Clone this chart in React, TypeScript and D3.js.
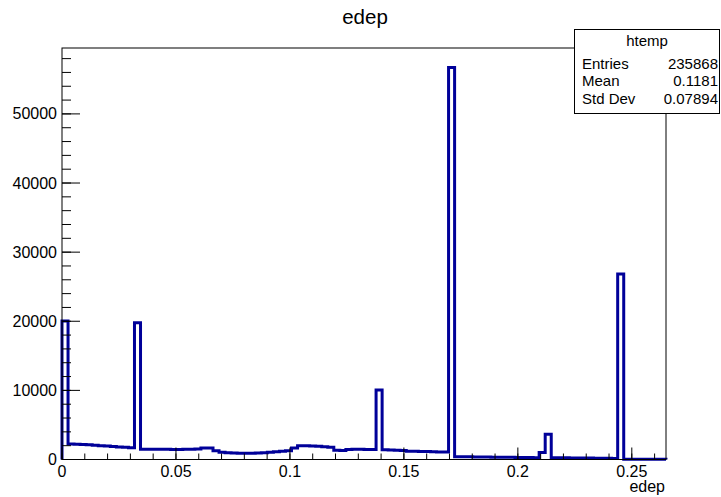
import React from "react";
import * as d3 from "d3";

const histTitle = "edep";
const axisTitle = "edep";
const xMin = 0;
const xMax = 0.265;
const binCounts = [
  20050, 2250, 2200, 2160, 2120, 2060, 2000, 1950, 1880, 1820,
  1760, 1700, 19800, 1500, 1490, 1480, 1470, 1480, 1460, 1450,
  1470, 1490, 1520, 1650, 1680, 1250, 1050, 980, 930, 900,
  900, 920, 950, 980, 1050, 1120, 1180, 1250, 1650, 2000,
  1980, 1950, 1900, 1850, 1780, 1350, 1300, 1450, 1480, 1470,
  1460, 1450, 10050, 1400, 1380, 1350, 1320, 1200, 1180, 1160,
  1140, 1120, 1100, 1080, 56700, 400, 390, 380, 370, 360,
  350, 340, 330, 320, 310, 300, 290, 280, 270, 1000,
  3670, 260, 250, 240, 230, 220, 210, 200, 190, 180,
  170, 160, 26850, 40, 35, 30, 30, 25, 20, 20,
];
const xMajorTicks = [0, 0.05, 0.1, 0.15, 0.2, 0.25];
const xTickLabels = ["0", "0.05", "0.1", "0.15", "0.2", "0.25"];
const yMajorTicks = [0, 10000, 20000, 30000, 40000, 50000];
const yTickLabels = ["0", "10000", "20000", "30000", "40000", "50000"];
const statsName = "htemp";
const statsLabels = ["Entries", "Mean", "Std Dev"];
const statsValues = ["235868", "0.1181", "0.07894"];

const W = 721;
const H = 497;
const frame = { left: 62, right: 666, top: 48, bottom: 459.5 };
const LINE = "#000099";
const FONT = "'Liberation Sans', Arial, Helvetica, sans-serif";

export default function App() {
  const nb = binCounts.length;
  const bw = (xMax - xMin) / nb;
  const yMax = (d3.max(binCounts) as number) * 1.05;
  const x = d3.scaleLinear().domain([xMin, xMax]).range([frame.left, frame.right]);
  const y = d3.scaleLinear().domain([0, yMax]).range([frame.bottom, frame.top]);

  const pts: [number, number][] = [[xMin, 0]];
  binCounts.forEach((c, i) => {
    pts.push([xMin + i * bw, c]);
    pts.push([xMin + (i + 1) * bw, c]);
  });
  pts.push([xMax, 0]);
  const path = d3
    .line<[number, number]>()
    .x((d) => x(d[0]))
    .y((d) => y(d[1]))(pts) as string;

  const xMinor = x.ticks(30);
  const yMinor = y.ticks(30);

  return (
    <svg
      width={W}
      height={H}
      style={{ position: "absolute", left: 0, top: 0, background: "#fff" }}
      fontFamily={FONT}
    >
      <rect x={0} y={0} width={W} height={H} fill="#fff" />
      <text x={365} y={24} fontSize={20.5} textAnchor="middle">
        {histTitle}
      </text>
      {/* histogram */}
      <path d={path} fill="none" stroke={LINE} strokeWidth={3} strokeLinejoin="miter" />
      {/* frame */}
      <rect
        x={frame.left}
        y={frame.top}
        width={frame.right - frame.left}
        height={frame.bottom - frame.top}
        fill="none"
        stroke="#000"
        strokeWidth={1}
      />
      {/* x ticks */}
      {xMinor.map((t, i) => (
        <line key={"xm" + i} x1={x(t)} x2={x(t)} y1={frame.bottom} y2={frame.bottom - 6} stroke="#000" />
      ))}
      {xMajorTicks.map((t, i) => (
        <g key={"xM" + i}>
          <line x1={x(t)} x2={x(t)} y1={frame.bottom} y2={frame.bottom - 12} stroke="#000" />
          <text x={x(t)} y={477} fontSize={16} textAnchor="middle">
            {xTickLabels[i]}
          </text>
        </g>
      ))}
      {/* y ticks */}
      {yMinor.map((t, i) => (
        <line key={"ym" + i} x1={frame.left} x2={frame.left + 9} y1={y(t)} y2={y(t)} stroke="#000" />
      ))}
      {yMajorTicks.map((t, i) => (
        <g key={"yM" + i}>
          <line x1={frame.left} x2={frame.left + 18} y1={y(t)} y2={y(t)} stroke="#000" />
          <text x={57} y={y(t) + 5.5} fontSize={16} textAnchor="end">
            {yTickLabels[i]}
          </text>
        </g>
      ))}
      <text x={665} y={492} fontSize={16} textAnchor="end">
        {axisTitle}
      </text>
      {/* stats box */}
      <rect x={574.5} y={29.5} width={145} height={84} fill="#fff" stroke="#000" />
      <text x={647} y={45.5} fontSize={15} textAnchor="middle">
        {statsName}
      </text>
      {statsLabels.map((l, i) => (
        <g key={"s" + i}>
          <text x={582} y={68.5 + i * 17.7} fontSize={15}>
            {l}
          </text>
          <text x={718} y={68.5 + i * 17.7} fontSize={15} textAnchor="end">
            {statsValues[i]}
          </text>
        </g>
      ))}
    </svg>
  );
}
